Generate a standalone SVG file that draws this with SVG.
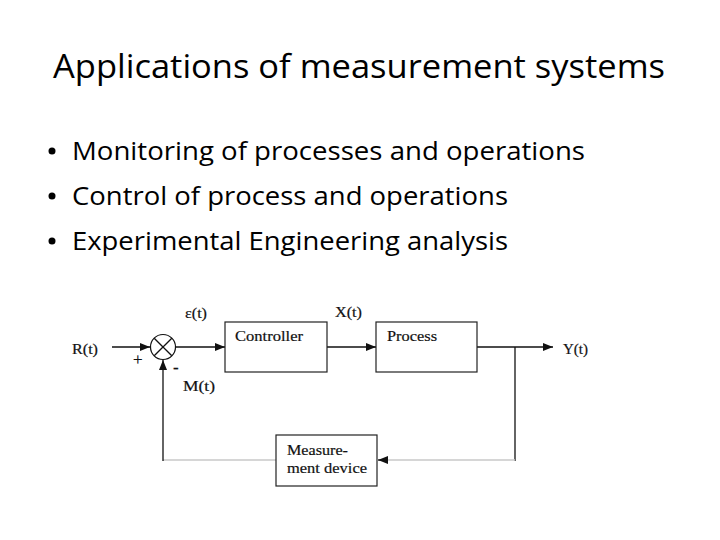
<svg xmlns="http://www.w3.org/2000/svg" width="720" height="540" viewBox="0 0 720 540">
<style>
.title{font-family:"Open Sans","Noto Sans",sans-serif;font-size:32px;fill:#000}
.bul{font-family:"Open Sans","Noto Sans",sans-serif;font-size:25px;fill:#000}
.lbl{font-family:"Liberation Serif","Times New Roman",serif;font-size:15px;fill:#111;stroke:#111;stroke-width:0.2}
.box{fill:#fff;stroke:#222;stroke-width:1.2}
.ln{fill:none;stroke:#111;stroke-width:1.3}
.lg{fill:none;stroke:#c8c8c8;stroke-width:1.3}
</style>
<defs>
<marker id="ah" viewBox="0 0 10 8" refX="10" refY="4" markerWidth="10" markerHeight="8" markerUnits="userSpaceOnUse" orient="auto">
<path d="M0,0 L10,4 L0,8 Z" fill="#111"/>
</marker>
</defs>
<rect width="720" height="540" fill="#fff"/>
<text class="title" x="53" y="78" textLength="612" lengthAdjust="spacingAndGlyphs">Applications of measurement systems</text>
<g id="bullets">
<circle cx="52" cy="151" r="3.5" fill="#000"/>
<circle cx="52" cy="196" r="3.5" fill="#000"/>
<circle cx="52" cy="241" r="3.5" fill="#000"/>
<text class="bul" x="72" y="160" textLength="513" lengthAdjust="spacingAndGlyphs">Monitoring of processes and operations</text>
<text class="bul" x="72" y="205" textLength="436" lengthAdjust="spacingAndGlyphs">Control of process and operations</text>
<text class="bul" x="72" y="250" textLength="436" lengthAdjust="spacingAndGlyphs">Experimental Engineering analysis</text>
</g>
<g id="connectors">
<line class="ln" x1="112" y1="347" x2="150" y2="347" marker-end="url(#ah)"/>
<line class="ln" x1="175" y1="347" x2="225" y2="347" marker-end="url(#ah)"/>
<line class="ln" x1="327" y1="347" x2="376" y2="347" marker-end="url(#ah)"/>
<line class="ln" x1="477" y1="347" x2="553" y2="347" marker-end="url(#ah)"/>
<line class="ln" x1="515" y1="347" x2="515" y2="461"/>
<line class="lg" x1="515" y1="460" x2="388" y2="460"/>
<line class="ln" x1="388" y1="460" x2="378" y2="460" marker-end="url(#ah)"/>
<line class="lg" x1="276" y1="460" x2="163" y2="460"/>
<line class="ln" x1="163" y1="461" x2="163" y2="360" marker-end="url(#ah)"/>
</g>
<g id="sum">
<circle cx="163" cy="347" r="12.5" fill="#fff" stroke="#111" stroke-width="1.2"/>
<line class="ln" x1="154.2" y1="338.2" x2="171.8" y2="355.8"/>
<line class="ln" x1="171.8" y1="338.2" x2="154.2" y2="355.8"/>
<text class="lbl" x="133" y="365" style="font-size:17px">+</text>
<text class="lbl" x="173" y="373" style="font-size:17px">-</text>
</g>
<g id="controller">
<rect class="box" x="225" y="322" width="102" height="50"/>
<text class="lbl" x="235" y="341" textLength="68" lengthAdjust="spacingAndGlyphs">Controller</text>
</g>
<g id="process">
<rect class="box" x="376" y="322" width="101" height="50"/>
<text class="lbl" x="387" y="341" textLength="50" lengthAdjust="spacingAndGlyphs">Process</text>
</g>
<g id="measurement">
<rect class="box" x="276" y="435" width="101" height="51"/>
<text class="lbl" x="287" y="455" textLength="61" lengthAdjust="spacingAndGlyphs">Measure-</text>
<text class="lbl" x="287" y="473" textLength="80" lengthAdjust="spacingAndGlyphs">ment device</text>
</g>
<g id="labels">
<text class="lbl" x="72" y="354" textLength="26" lengthAdjust="spacingAndGlyphs">R(t)</text>
<text class="lbl" x="185" y="318" textLength="22" lengthAdjust="spacingAndGlyphs">ε(t)</text>
<text class="lbl" x="335" y="317" textLength="27" lengthAdjust="spacingAndGlyphs">X(t)</text>
<text class="lbl" x="563" y="354" textLength="25" lengthAdjust="spacingAndGlyphs">Y(t)</text>
<text class="lbl" x="183" y="391" textLength="32" lengthAdjust="spacingAndGlyphs">M(t)</text>
</g>
</svg>
